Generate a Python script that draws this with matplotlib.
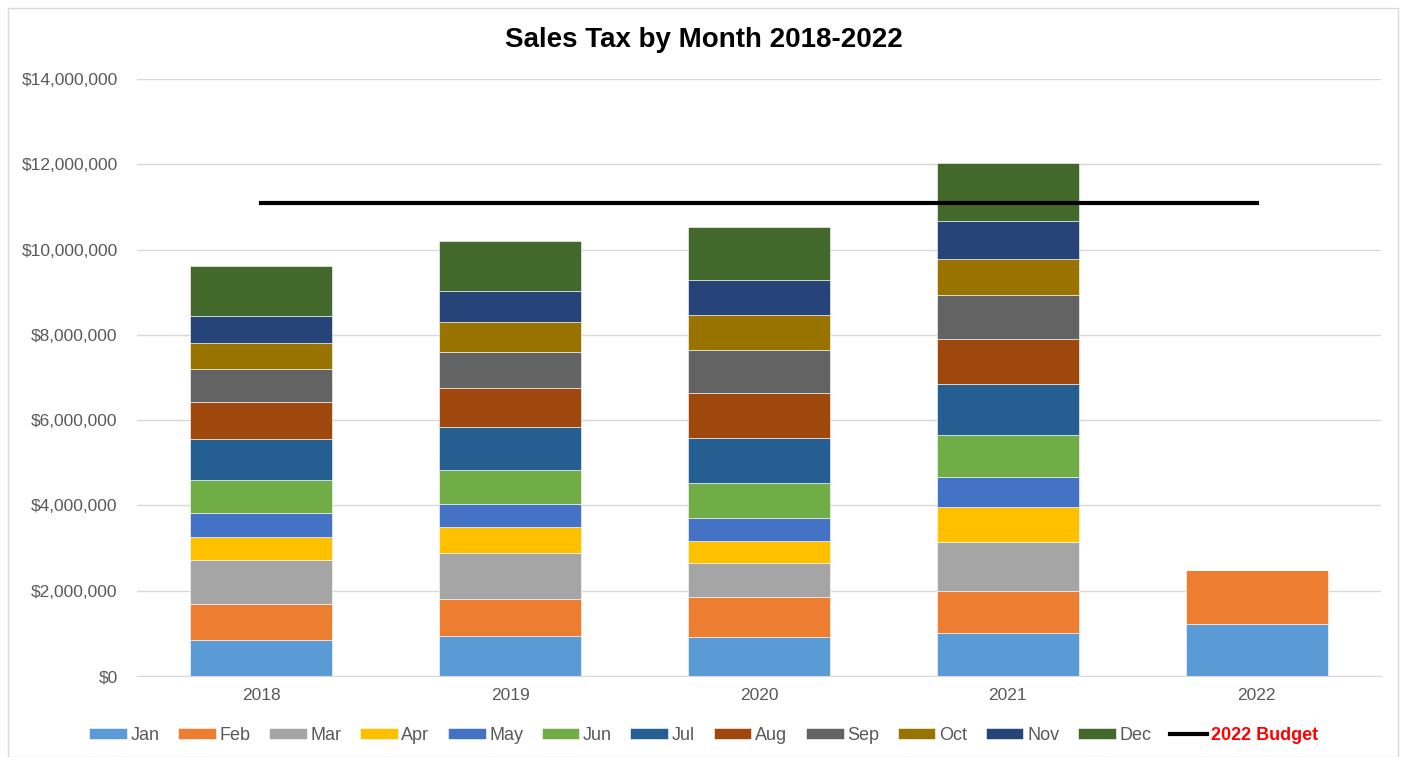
import matplotlib
matplotlib.use("Agg")
from matplotlib import pyplot as plt
from matplotlib.patches import Rectangle
from matplotlib.ticker import FuncFormatter
import numpy as np

plt.rcParams['font.family'] = ['Liberation Sans', 'DejaVu Sans']

years = ['2018', '2019', '2020', '2021', '2022']
months = ['Jan', 'Feb', 'Mar', 'Apr', 'May', 'Jun',
          'Jul', 'Aug', 'Sep', 'Oct', 'Nov', 'Dec']

# monthly sales tax per year (dollars)
tax_2018 = [853000, 837000, 1025000, 556000, 540000, 790000,
            955000, 860000, 791000, 594000, 650000, 1166000]
tax_2019 = [931000, 877000, 1079000, 618000, 540000, 791000,
            993000, 924000, 853000, 696000, 720000, 1174000]
tax_2020 = [913000, 928000, 810000, 516000, 531000, 834000,
            1055000, 1048000, 1000000, 825000, 826000, 1238000]
tax_2021 = [1000000, 992000, 1159000, 809000, 715000, 968000,
            1214000, 1048000, 1039000, 834000, 881000, 1381000]
tax_2022 = [1220000, 1260000, 0, 0, 0, 0, 0, 0, 0, 0, 0, 0]

budget_2022 = [11100000, 11100000, 11100000, 11100000, 11100000]

colors = ['#5B9BD5', '#ED7D31', '#A5A5A5', '#FFC000', '#4472C4', '#70AD47',
          '#255E91', '#9E480E', '#636363', '#997300', '#264478', '#43682B']

data = np.array([tax_2018, tax_2019, tax_2020, tax_2021, tax_2022]).T

fig = plt.figure(figsize=(14.07, 7.57), dpi=100)
ax = fig.add_axes([137 / 1407, 1 - 676 / 757, (1381 - 137) / 1407, (676 - 79) / 757])

fig.patches.append(Rectangle((8 / 1407, 0), (1398 - 8) / 1407, 1 - 8 / 757,
                             transform=fig.transFigure, fill=False,
                             edgecolor='#D9D9D9', linewidth=1))

x = np.arange(len(years))
bottom = np.zeros(len(years))
handles = []
for i, m in enumerate(months):
    b = ax.bar(x, data[i], bottom=bottom, width=0.57, color=colors[i],
               edgecolor='white', linewidth=0.4, label=m, zorder=2)
    handles.append(b)
    bottom += data[i]

line, = ax.plot(x, budget_2022, color='black', linewidth=3, label='2022 Budget', zorder=3)
handles.append(line)

ax.set_xlim(-0.5, 4.5)
ax.set_ylim(0, 14000000)
ax.set_yticks(np.arange(0, 14000001, 2000000))
ax.yaxis.set_major_formatter(FuncFormatter(lambda v, p: '${:,.0f}'.format(v)))
ax.set_xticks(x)
ax.set_xticklabels(years)
ax.tick_params(axis='both', length=0, labelsize=12.5, colors='#595959')
ax.tick_params(axis='y', pad=14)
ax.tick_params(axis='x', pad=9)
ax.grid(axis='y', color='#D9D9D9', linewidth=1, zorder=0)
ax.set_axisbelow(True)
for s in ['top', 'right', 'left']:
    ax.spines[s].set_visible(False)
ax.spines['bottom'].set_color('#D9D9D9')

fig.text(0.5, 1 - 40 / 757, 'Sales Tax by Month 2018-2022', ha='center', va='center',
         fontsize=20, fontweight='bold')

leg = fig.legend(handles, months + ['2022 Budget'], loc='center',
                 bbox_to_anchor=(0.5, 1 - 735 / 757), ncol=13,
                 frameon=False, fontsize=13, handlelength=2.1, handleheight=0.55,
                 handletextpad=0.2, columnspacing=1.02)
for t in leg.get_texts():
    t.set_color('#595959')
leg.get_texts()[-1].set_color('red')
leg.get_texts()[-1].set_fontweight('bold')

fig.savefig('out.png', dpi=100)
plt.close(fig)
